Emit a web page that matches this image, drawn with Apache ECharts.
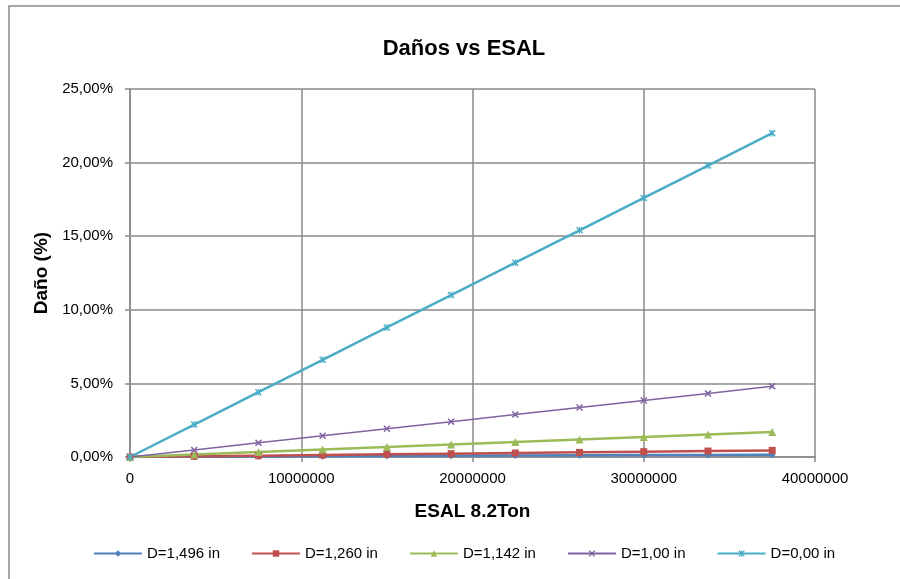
<!DOCTYPE html>
<html>
<head>
<meta charset="utf-8">
<script src="https://cdn.jsdelivr.net/npm/echarts@6/dist/echarts.min.js"></script>
<style>
  html, body { margin: 0; padding: 0; background: #fff; }
  #chart { width: 900px; height: 579px; }
</style>
</head>
<body>
<div id="chart"></div>
<script>
// datos (ESAL 8.2Ton vs daño en %)
const esal = [0, 3750000, 7500000, 11250000, 15000000, 18750000, 22500000, 26250000, 30000000, 33750000, 37500000]
const d1496 = [0, 0.016, 0.032, 0.048, 0.064, 0.08, 0.096, 0.112, 0.128, 0.144, 0.16]
const d1260 = [0, 0.045, 0.09, 0.135, 0.18, 0.225, 0.27, 0.315, 0.36, 0.405, 0.45]
const d1142 = [0, 0.17, 0.34, 0.51, 0.68, 0.85, 1.02, 1.19, 1.36, 1.53, 1.70]
const d100 = [0, 0.48, 0.96, 1.44, 1.92, 2.40, 2.88, 3.36, 3.84, 4.32, 4.80]
const d000 = [0, 2.2, 4.4, 6.6, 8.8, 11.0, 13.2, 15.4, 17.6, 19.8, 22.0]
const seriesNames = ['D=1,496 in', 'D=1,260 in', 'D=1,142 in', 'D=1,00 in', 'D=0,00 in']

const font = 'Liberation Sans, Arial, sans-serif'
const gridColor = '#8a8a8a'

const xMark = 'path://M0,1.5L1.5,0L5,3.5L8.5,0L10,1.5L6.5,5L10,8.5L8.5,10L5,6.5L1.5,10L0,8.5L3.5,5Z'
const starMark = 'path://M0,1.5L1.5,0L4.3,2.8L4.3,0L5.7,0L5.7,2.8L8.5,0L10,1.5L6.5,5L10,8.5L8.5,10L5.7,7.2L5.7,10L4.3,10L4.3,7.2L1.5,10L0,8.5L3.5,5Z'

const pair = ys => esal.map((x, i) => [x, ys[i]])

function mkSeries(name, ys, color, symbol, size, width) {
    return {
        name: name,
        type: 'line',
        data: pair(ys),
        symbol: symbol,
        symbolSize: size,
        showAllSymbol: true,
        lineStyle: { color: color, width: width },
        itemStyle: { color: color },
        emphasis: { disabled: true },
        animation: false
    }
}

let myChart = echarts.init(document.getElementById('chart'))
let option = {
    backgroundColor: '#fff',
    textStyle: { fontFamily: font },
    title: {
        text: 'Daños vs ESAL',
        left: 459,
        textAlign: 'center',
        top: 33,
        textStyle: { fontFamily: font, fontSize: 22, fontWeight: 'bold', color: '#000' }
    },
    grid: { left: 130, right: 85, top: 89, bottom: 122 },
    legend: {
        left: 88,
        top: 541,
        itemWidth: 48,
        itemHeight: 8,
        itemGap: 31,
        textStyle: { fontFamily: font, fontSize: 15, color: '#000' },
        data: seriesNames
    },
    xAxis: {
        type: 'value',
        min: 0,
        max: 40000000,
        interval: 10000000,
        name: 'ESAL 8.2Ton',
        nameLocation: 'middle',
        nameGap: 45,
        nameTextStyle: { fontFamily: font, fontSize: 19, fontWeight: 'bold', color: '#000' },
        axisLine: { show: true, lineStyle: { color: gridColor, width: 1.5 } },
        axisTick: { show: true, length: 5, lineStyle: { color: gridColor, width: 1.5 } },
        axisLabel: { color: '#000', fontSize: 15, margin: 14, formatter: v => String(v) },
        splitLine: { show: true, lineStyle: { color: gridColor, width: 1.5 } }
    },
    yAxis: {
        type: 'value',
        min: 0,
        max: 25,
        interval: 5,
        name: 'Daño (%)',
        nameLocation: 'middle',
        nameGap: 75,
        nameTextStyle: { fontFamily: font, fontSize: 19, fontWeight: 'bold', color: '#000' },
        axisLine: { show: true, lineStyle: { color: gridColor, width: 1.5 } },
        axisTick: { show: true, length: 5, lineStyle: { color: gridColor, width: 1.5 } },
        axisLabel: {
            color: '#000',
            fontSize: 15,
            margin: 17,
            formatter: v => v.toFixed(2).replace('.', ',') + '%'
        },
        splitLine: { show: true, lineStyle: { color: gridColor, width: 1.5 } }
    },
    graphic: [
        {
            type: 'rect',
            shape: { x: 9, y: 6, width: 900, height: 600 },
            style: { fill: 'none', stroke: '#8a8a8a', lineWidth: 1.5 },
            silent: true
        }
    ],
    series: [
        mkSeries(seriesNames[0], d1496, '#4F81BD', 'diamond', 7, 2.5),
        mkSeries(seriesNames[1], d1260, '#C0504D', 'rect', 7, 2.5),
        mkSeries(seriesNames[2], d1142, '#9BBB59', 'triangle', 8, 2.5),
        mkSeries(seriesNames[3], d100, '#8064A2', xMark, 7, 1.5),
        mkSeries(seriesNames[4], d000, '#4BACC6', starMark, 7, 2.5)
    ]
}
myChart.setOption(option)
</script>
</body>
</html>
